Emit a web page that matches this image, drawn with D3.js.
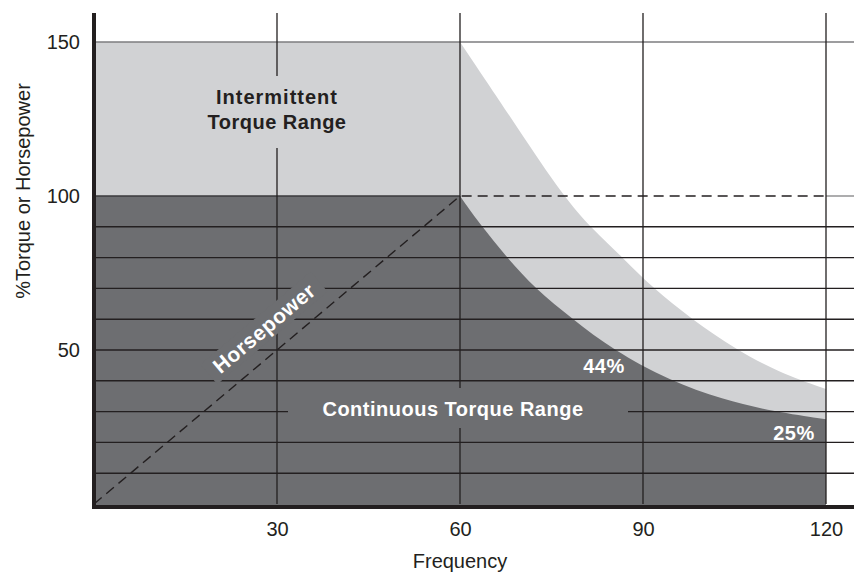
<!DOCTYPE html>
<meta charset="utf-8">
<script src="https://d3js.org/d3.v7.min.js"></script>
<style>
  body { margin: 0; background: #fff; }
  text { font-family: "Liberation Sans", Arial, Helvetica, sans-serif; }
</style>
<body>
<div id="my_dataviz"></div>
<script>

// frequency points along the torque curves
var freqCont = [60, 63.6, 67.7, 72.3, 78.5, 85.1, 94.4, 103, 111.3, 120];
var torqueCont = [100, 90, 80, 70, 60, 50, 40, 34, 30, 27.5];

var freqInt = [60, 69.7, 76.9, 81.8, 86.6, 91.6, 98, 105.4, 112, 120];
var torqueInt = [150, 121.4, 100, 89, 80.2, 70.1, 60, 50, 43, 37.3];

// horsepower line: rises to rated point, then constant
var hpFreq = [0, 60, 120];
var hpValue = [0, 100, 100];

var xTicks = [30, 60, 90, 120];
var yTicks = [50, 100, 150];
var gridValues = [10, 20, 30, 40, 50, 60, 70, 80, 90];
var vGridValues = [30, 60, 90, 120];

var W = 854, H = 575;
var plotTop = 13, plotRight = 854;

var svg = d3.select("#my_dataviz")
  .append("svg")
  .attr("width", W)
  .attr("height", H);

var x = d3.scaleLinear().domain([0, 120]).range([94, 826]);
var y = d3.scaleLinear().domain([0, 150]).range([504, 42]);

var ink = "#231f20", dark = "#6d6e71", light = "#d1d2d4";

// flat part up to the base frequency, then the falling curve
var flat = d3.area()
  .x(function (d) { return x(d[0]); })
  .y0(y(0) + 1)
  .y1(function (d) { return y(d[1]); });
var curved = d3.area()
  .x(function (d) { return x(d[0]); })
  .y0(y(0) + 1)
  .y1(function (d) { return y(d[1]); })
  .curve(d3.curveBasis);

function region(freq, vals, fill) {
  var pts = freq.map(function (f, i) { return [f, vals[i]]; });
  svg.append("path").datum([[0, vals[0]], [freq[0] + 0.1, vals[0]]]).attr("d", flat).attr("fill", fill);
  svg.append("path").datum(pts).attr("d", curved).attr("fill", fill);
}
region(freqInt, torqueInt, light);
region(freqCont, torqueCont, dark);

// horizontal grid
svg.append("g").selectAll("line")
  .data(gridValues)
  .enter().append("line")
  .attr("x1", x(0)).attr("x2", plotRight)
  .attr("y1", function (d) { return y(d); })
  .attr("y2", function (d) { return y(d); })
  .attr("stroke", ink).attr("stroke-width", 1.4);

svg.append("line")
  .attr("x1", x(0)).attr("x2", plotRight)
  .attr("y1", y(150)).attr("y2", y(150))
  .attr("stroke", "#7d7d7f").attr("stroke-width", 1.6);

svg.append("line")
  .attr("x1", x(0)).attr("x2", x(60))
  .attr("y1", y(100)).attr("y2", y(100))
  .attr("stroke", "#3a3a3c").attr("stroke-width", 1.4);
svg.append("line")
  .attr("x1", x(120)).attr("x2", plotRight)
  .attr("y1", y(100)).attr("y2", y(100))
  .attr("stroke", "#8a8a8c").attr("stroke-width", 1.4);

// vertical grid
svg.append("g").selectAll("line")
  .data(vGridValues)
  .enter().append("line")
  .attr("x1", function (d) { return x(d); })
  .attr("x2", function (d) { return x(d); })
  .attr("y1", plotTop).attr("y2", y(0))
  .attr("stroke", ink).attr("stroke-width", 1.3);

// knock-outs behind the labels
svg.append("rect")
  .attr("x", x(30) - 75).attr("y", 76).attr("width", 150).attr("height", 72)
  .attr("fill", light);
svg.append("rect")
  .attr("x", 288).attr("y", 388).attr("width", 340).attr("height", 40)
  .attr("fill", dark);

var ang = Math.atan2(y(100) - y(0), x(60) - x(0)) * 180 / Math.PI;
var hpX = 264, hpY = 328;
svg.append("rect")
  .attr("x", -72).attr("y", -13).attr("width", 144).attr("height", 26)
  .attr("fill", dark)
  .attr("transform", "translate(" + hpX + "," + hpY + ") rotate(" + ang + ")");

// horsepower dashed line
var hpLine = d3.line()
  .x(function (d, i) { return x(hpFreq[i]); })
  .y(function (d, i) { return y(hpValue[i]); });
svg.append("path")
  .datum(hpFreq)
  .attr("d", hpLine)
  .attr("fill", "none")
  .attr("stroke", ink)
  .attr("stroke-width", 1.4)
  .attr("stroke-dasharray", "10,6");

// labels
var lab = svg.append("g").attr("font-weight", "bold").attr("font-size", 20)
  .attr("text-anchor", "middle").attr("letter-spacing", 0.5);
lab.append("text").attr("x", x(30)).attr("y", 104).attr("fill", ink).attr("letter-spacing", 1).text("Intermittent");
lab.append("text").attr("x", x(30)).attr("y", 129).attr("fill", ink).text("Torque Range");
lab.append("text").attr("x", 453).attr("y", 416).attr("fill", "#fff").text("Continuous Torque Range");
lab.append("text").attr("x", 604).attr("y", 373).attr("fill", "#fff").text("44%");
lab.append("text").attr("x", 794).attr("y", 440).attr("fill", "#fff").text("25%");
lab.append("text")
  .attr("fill", "#fff")
  .attr("font-size", 21)
  .attr("dy", "0.36em")
  .attr("transform", "translate(" + hpX + "," + hpY + ") rotate(" + ang + ")")
  .text("Horsepower");

// axes
var xAxis = svg.append("g")
  .attr("transform", "translate(0," + 507 + ")")
  .call(d3.axisBottom(x).tickValues(xTicks).tickSize(0).tickPadding(15));
var yAxis = svg.append("g")
  .attr("transform", "translate(" + 94 + ",0)")
  .call(d3.axisLeft(y).tickValues(yTicks).tickSize(0).tickPadding(14));
[xAxis, yAxis].forEach(function (a) {
  a.select(".domain").remove();
  a.selectAll("text")
    .attr("font-size", 20)
    .attr("fill", ink)
    .style("font-family", "'Liberation Sans', Arial, sans-serif");
});

svg.append("line")
  .attr("x1", 92).attr("x2", plotRight)
  .attr("y1", 507).attr("y2", 507)
  .attr("stroke", ink).attr("stroke-width", 4);
svg.append("line")
  .attr("x1", 94).attr("x2", 94)
  .attr("y1", plotTop).attr("y2", 509)
  .attr("stroke", ink).attr("stroke-width", 4);

svg.append("text")
  .attr("x", x(60)).attr("y", 568)
  .attr("text-anchor", "middle")
  .attr("font-size", 20).attr("fill", ink)
  .text("Frequency");

svg.append("text")
  .attr("transform", "translate(30,191) rotate(-90)")
  .attr("text-anchor", "middle")
  .attr("font-size", 20).attr("fill", ink)
  .text("%Torque or Horsepower");

</script>
</body>
